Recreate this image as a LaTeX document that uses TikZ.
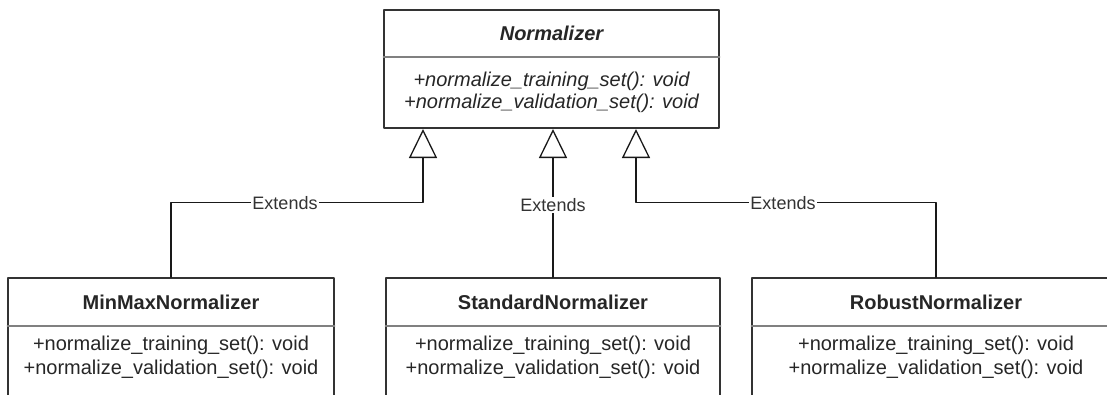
\documentclass[tikz,border=0pt]{standalone}
\usepackage{fontspec}
\setmainfont{Liberation Sans}
\usetikzlibrary{arrows.meta}

\tikzset{
  classbox/.style={draw=black!80, line width=1.4pt, inner sep=0pt},
  divider/.style={draw=black!50, line width=1.2pt},
  cname/.style={font=\fontsize{20}{24}\selectfont\bfseries, text=black!85},
  absname/.style={font=\fontsize{20}{24}\selectfont\bfseries\itshape, text=black!85},
  cops/.style={font=\fontsize{20}{24}\selectfont, text=black!85, align=center, inner sep=0pt},
  absops/.style={cops, font=\fontsize{20}{22}\selectfont\itshape},
  extends/.style={draw=black!90, line width=1.3pt, -{Triangle[open, width=28pt, length=29pt]}},
  extlabel/.style={fill=white, inner sep=1.5pt, font=\fontsize{18}{20}\selectfont, text=black!80}
}

\begin{document}
\begin{tikzpicture}[x=1pt,y=-1pt,line cap=round,line join=round]
\useasboundingbox (0,0) rectangle (1107,394);
\clip (0,0) rectangle (1107,394);

% abstract parent
\node[classbox, minimum width=335pt, minimum height=118pt] (norm) at (551.5,69) {};
\draw[divider] (norm.west |- 0,57) -- (norm.east |- 0,57);
\node[absname] (normname) at (551.5,33) {Normalizer};
\node[absops] (normops) at (551.5,92) {+normalize\_training\_set(): void\\+normalize\_validation\_set(): void};

% subclasses
\node[classbox, minimum width=326pt, minimum height=142pt] (minmax) at (171,349) {};
\node[classbox, minimum width=334pt, minimum height=142pt] (standard) at (553,349) {};
\node[classbox, minimum width=368pt, minimum height=142pt] (robust) at (936,349) {};
\draw[divider] (minmax.west |- 0,326) -- (minmax.east |- 0,326);
\draw[divider] (standard.west |- 0,326) -- (standard.east |- 0,326);
\draw[divider] (robust.west |- 0,326) -- (robust.east |- 0,326);

\node[cname] (minmaxname) at (171,302) {MinMaxNormalizer};
\node[cname] (standardname) at (553,302) {StandardNormalizer};
\node[cname] (robustname) at (936,302) {RobustNormalizer};
\node[cops] (minmaxops) at (171,357.5) {+normalize\_training\_set(): void\\+normalize\_validation\_set(): void};
\node[cops] (standardops) at (553,357.5) {+normalize\_training\_set(): void\\+normalize\_validation\_set(): void};
\node[cops] (robustops) at (936,357.5) {+normalize\_training\_set(): void\\+normalize\_validation\_set(): void};

% inheritance
\coordinate (tipA) at (423,129);
\coordinate (tipC) at (636,129);
\draw[extends] (minmax.north) -- ++(0,-75) -| (tipA);
\draw[extends] (standard.north) -- (standard.north |- tipA);
\draw[extends] (robust.north) -- ++(0,-75) -| (tipC);
\node[extlabel] (lblA) at (285,203) {Extends};
\node[extlabel] (lblB) at (553,205) {Extends};
\node[extlabel] (lblC) at (783,203) {Extends};
\end{tikzpicture}
\end{document}
